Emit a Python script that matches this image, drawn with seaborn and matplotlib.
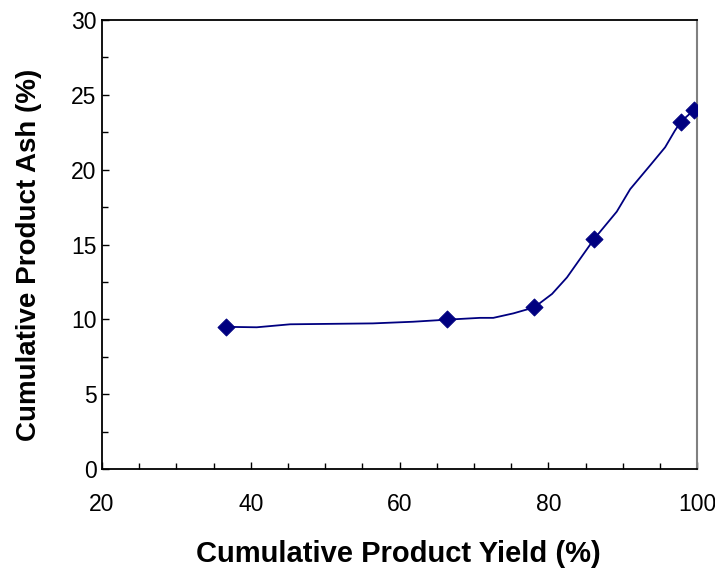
import numpy as np
import pandas as pd
import seaborn as sns
import matplotlib.pyplot as plt
from matplotlib.ticker import MultipleLocator

# measured points (markers)
yield_pts = [36.6, 66.4, 78.1, 86.2, 97.8, 99.6]
ash_pts = [9.5, 10.0, 10.8, 15.4, 23.2, 24.0]

# smoothed curve
curve_yield = [36.6, 40.8, 45.3, 56.4, 61.8, 66.4, 70.8, 72.6, 75.3, 78.1,
               80.5, 82.5, 86.2, 89.2, 91.0, 93.7, 95.7, 97.0, 97.8, 99.6]
curve_ash = [9.5, 9.47, 9.67, 9.73, 9.84, 9.98, 10.1, 10.1, 10.4, 10.8,
             11.7, 12.8, 15.4, 17.2, 18.7, 20.3, 21.5, 22.6, 23.2, 24.0]

sns.set_style("ticks")
plt.rcParams['font.family'] = ['Liberation Sans', 'DejaVu Sans']
plt.rcParams['text.color'] = 'black'
plt.rcParams['axes.labelcolor'] = 'black'
plt.rcParams['xtick.color'] = 'black'
plt.rcParams['ytick.color'] = 'black'

fig = plt.figure(figsize=(7.15, 5.73), dpi=100)
ax = fig.add_axes([0.1427, 0.1815, 0.8323, 0.7835])

navy = '#000080'
sns.lineplot(x=curve_yield, y=curve_ash, ax=ax, color=navy, lw=1.3, sort=False)
sns.scatterplot(x=yield_pts, y=ash_pts, ax=ax, color=navy, marker='D', s=75,
                edgecolor=navy, zorder=3)

ax.set_xlim(20, 100)
ax.set_ylim(0, 30)
ax.xaxis.set_major_locator(MultipleLocator(20))
ax.xaxis.set_minor_locator(MultipleLocator(5))
ax.yaxis.set_major_locator(MultipleLocator(5))
ax.yaxis.set_minor_locator(MultipleLocator(2.5))
ax.tick_params(which='both', direction='in', color='black', width=1,
               bottom=True, left=True, top=False, right=False)
ax.tick_params(which='major', length=5, labelsize=16.5)
ax.tick_params(which='minor', length=4)
ax.tick_params(axis='x', which='major', pad=17)
ax.tick_params(axis='y', which='major', pad=4)

for s in ['left', 'bottom', 'top']:
    ax.spines[s].set_color('black')
    ax.spines[s].set_linewidth(1.3)
ax.spines['right'].set_color('#808080')
ax.spines['right'].set_linewidth(1.5)

ax.set_xlabel('Cumulative Product Yield (%)', fontsize=21, fontweight='bold')
ax.set_ylabel('Cumulative Product Ash (%)', fontsize=20, fontweight='bold')
ax.xaxis.set_label_coords(0.498, -0.158)
ax.yaxis.set_label_coords(-0.101, 0.477)

fig.savefig('out.png', dpi=100)
